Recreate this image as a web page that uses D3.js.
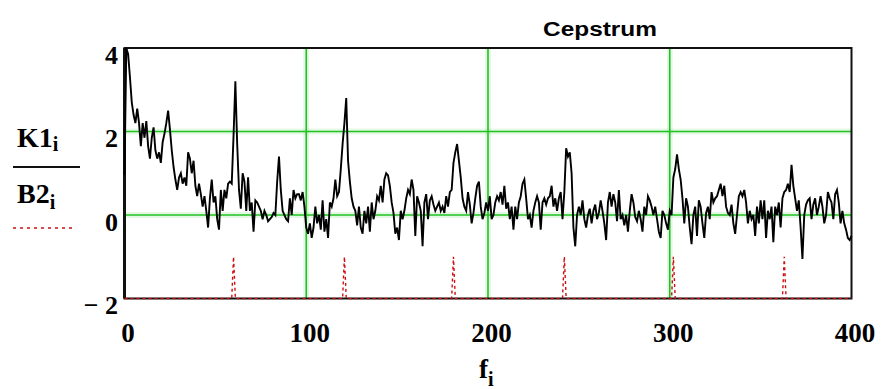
<!DOCTYPE html>
<html>
<head>
<meta charset="utf-8">
<script src="https://cdn.jsdelivr.net/npm/d3@7"></script>
<style>
  body { margin: 0; background: #fff; }
  svg { display: block; }
</style>
</head>
<body>
<svg id="chart" width="885" height="389"></svg>
<script>
// Cepstrum trace K1, one value per index i = 0..400
const K1 = [
  0.95, 4.0, 3.85, 3.3, 2.7, 2.4, 2.2, 2.55, 2.2, 1.65,
  2.2, 1.85, 2.25, 1.65, 1.35, 1.85, 2.1, 1.55, 1.35, 1.5,
  1.25, 1.75, 1.95, 2.2, 2.5, 2.05, 1.55, 1.15, 0.85, 0.6,
  0.9, 1.0, 0.75, 0.9, 0.7, 1.5, 1.35, 1.0, 1.3, 0.7,
  0.45, 0.75, 0.5, 0.2, 0.45, 0.1, -0.3, 0.4, 0.85, 0.3,

  0.45, -0.1, -0.35, 0.6, 0.1, 0.6, 0.4, 0.75, 0.8, 0.75,
  1.9, 3.2, 1.7, 0.6, 0.15, 1.0, 0.8, 0.1, 0.9, 0.1,
  0.3, -0.4, 0.35, 0.3, 0.2, 0.1, -0.1, 0.1, 0.0, -0.15,
  -0.1, -0.05, 0.05, 0.0, 0.8, 1.4, 0.6, 0.1, 0.0, -0.1,
  -0.15, 0.4, 0.0, 0.6, 0.4, 0.5, 0.5, 0.35, 0.55, 0.2,

  -0.3, -0.45, -0.2, -0.55, -0.3, 0.2, -0.2, 0.0, -0.35, 0.35,
  -0.4, -0.1, -0.55, 0.3, 0.2, 0.4, 0.85, 0.45, 0.55, 1.1,
  1.7, 2.2, 2.8, 1.3, 0.8, 0.4, 0.2, 0.1, -0.25, 0.2,
  -0.3, -0.45, 0.1, -0.2, 0.2, -0.4, 0.3, -0.1, 0.1, 0.45,
  0.35, 0.7, 0.3, 0.85, 1.0, 0.95, 0.7, 0.3, 0.05, -0.45,

  -0.3, -0.6, 0.1, -0.1, 0.1, 0.4, 0.6, 0.5, 0.85, 0.6,
  -0.5, 0.45, 0.3, 0.1, -0.75, 0.3, 0.5, -0.1, 0.35, 0.45,
  0.25, 0.1, 0.2, 0.3, 0.1, 0.2, 0.05, 0.45, 0.2, 0.55,
  0.6, 1.25, 1.5, 1.7, 1.3, 0.9, 0.4, 0.2, 0.1, 0.55,
  0.25, -0.2, 0.05, 0.4, 0.7, 0.8, 0.2, -0.1, 0.05, 0.3,

  0.1, 0.45, -0.1, 0.0, 0.3, 0.45, 0.35, 0.55, 0.25, 0.7,
  0.15, 0.3, -0.1, 0.2, -0.35, 0.2, -0.1, 0.3, 0.45, 0.75,
  0.85, 0.4, -0.1, 0.0, -0.3, 0.1, 0.3, 0.45, 0.3, -0.35,
  0.3, 0.4, 0.25, 0.4, 0.45, 0.7, 0.2, 0.4, 0.1, 0.4,
  0.55, -0.1, 0.55, 1.6, 1.4, 1.5, 1.0, -0.3, -0.75, 0.0,

  0.2, 0.0, 0.35, -0.1, -0.3, 0.0, 0.15, -0.2, 0.1, 0.25,
  -0.1, 0.05, 0.35, 0.1, -0.2, -0.6, 0.3, 0.55, 0.2, 0.5,
  0.3, -0.15, 0.6, -0.1, 0.0, -0.25, 0.0, -0.4, 0.1, 0.5,
  0.3, -0.05, -0.15, 0.1, -0.1, -0.4, 0.2, 0.0, 0.45, 0.35,
  0.2, 0.0, 0.2, -0.1, -0.4, -0.55, 0.1, 0.0, -0.2, -0.35,

  0.1, 0.0, 0.9, 1.1, 1.45, 1.1, 0.85, 0.4, -0.2, 0.4,
  0.2, -0.3, -0.7, 0.0, 0.2, -0.5, 0.35, 0.2, -0.2, -0.55,
  0.05, 0.2, -0.1, 0.55, 0.3, 0.4, 0.45, 0.6, 0.75, 0.45,
  0.7, 0.2, 0.05, 0.0, 0.25, -0.2, -0.45, 0.0, 0.45, 0.55,
  0.45, 0.6, 0.3, -0.2, 0.1, -0.1, 0.0, -0.5, 0.2, -0.2,

  0.35, -0.1, 0.35, -0.55, 0.1, -0.1, 0.2, -0.65, 0.2, 0.0,
  0.3, -0.3, 0.4, 0.55, 0.6, 0.75, 0.55, 1.2, 0.7, 0.4,
  0.1, 0.35, -0.3, -1.05, 0.0, 0.25, 0.35, 0.4, -0.1, 0.25,
  0.4, 0.0, 0.2, 0.45, 0.2, -0.2, 0.0, 0.55, 0.4, 0.3,
  -0.1, 0.5, 0.6, 0.3, -0.2, 0.1, -0.2, -0.35, -0.55, -0.6,
  -0.5
];

// Marker trace B2: sits at the base level, lifted at the harmonic indices
const B2_base = -2;
const B2_mark = -1;
const B2_marks = [60, 121, 181, 242, 302, 363];
const B2 = K1.map((_, i) => (B2_marks.includes(i) ? B2_mark : B2_base));

// Axis ticks and grid positions
const xTicks = [0, 100, 200, 300, 400];
const yTicks = [-2, 0, 2, 4];
const xGrid = [100, 200, 300];
const yGrid = [0, 2];

const svg = d3.select("#chart");

const x = d3.scaleLinear().domain([0, 400]).range([124.5, 851.5]);
const y = d3.scaleLinear().domain([-2, 4]).range([298.5, 48]);

const GREEN = "#1fc21f";
const RED = "#cc1010";
const SERIF = "'Liberation Serif', 'Times New Roman', serif";
const SANS = "'Liberation Sans', Arial, sans-serif";

// Grid lines, each with a faint wide halo beneath
const gridG = svg.append("g");
[[6, 0.12], [1.6, 1]].forEach(([w, op]) => {
  gridG.append("g").selectAll("line").data(xGrid).join("line")
    .attr("x1", d => x(d)).attr("x2", d => x(d))
    .attr("y1", y(4)).attr("y2", y(-2))
    .attr("stroke", GREEN).attr("stroke-width", w).attr("stroke-opacity", op);
  gridG.append("g").selectAll("line").data(yGrid).join("line")
    .attr("x1", x(0)).attr("x2", x(400))
    .attr("y1", d => y(d)).attr("y2", d => y(d))
    .attr("stroke", GREEN).attr("stroke-width", w).attr("stroke-opacity", op);
});

// Frame
svg.append("rect")
  .attr("x", x(0)).attr("y", y(4))
  .attr("width", x(400) - x(0)).attr("height", y(-2) - y(4))
  .attr("fill", "none").attr("stroke", "#111").attr("stroke-width", 2);
svg.append("line")
  .attr("x1", x(0)).attr("x2", x(0)).attr("y1", y(4)).attr("y2", y(-2))
  .attr("stroke", "#111").attr("stroke-width", 3);

const line = d3.line().x((d, i) => x(i)).y(d => y(d));

// B2 dotted trace
svg.append("path").datum(B2)
  .attr("d", line)
  .attr("fill", "none").attr("stroke", RED)
  .attr("stroke-width", 1.4).attr("stroke-dasharray", "3,3");

// K1 trace
svg.append("path").datum(K1)
  .attr("d", line)
  .attr("fill", "none").attr("stroke", "#000")
  .attr("stroke-width", 1.9).attr("stroke-linejoin", "miter");

// Axes
const xAxisG = svg.append("g")
  .attr("transform", `translate(0,${y(-2)})`)
  .call(d3.axisBottom(x).tickValues(xTicks).tickSize(0));
xAxisG.select(".domain").remove();
xAxisG.selectAll("text")
  .attr("y", 43).attr("dy", null).attr("dx", 3)
  .attr("fill", "#000")
  .style("font-family", SERIF).style("font-weight", "bold").style("font-size", "27px");

const yAxisG = svg.append("g")
  .attr("transform", `translate(118,0)`)
  .call(d3.axisLeft(y).tickValues(yTicks).tickSize(0)
    .tickFormat(d => d < 0 ? "\u2212 " + Math.abs(d) : String(d)));
yAxisG.select(".domain").remove();
yAxisG.selectAll("text")
  .attr("x", 0).attr("dy", null).attr("y", 15)
  .attr("fill", "#000")
  .style("font-family", SERIF).style("font-weight", "bold").style("font-size", "26px");

// Title
svg.append("text")
  .attr("x", 543).attr("y", 36)
  .attr("textLength", 114).attr("lengthAdjust", "spacingAndGlyphs")
  .style("font-family", SANS).style("font-weight", "bold").style("font-size", "20px")
  .text("Cepstrum");

// X axis label f_i
const fx = svg.append("text").attr("x", 479).attr("y", 378)
  .style("font-family", SERIF).style("font-weight", "bold").style("font-size", "27px");
fx.append("tspan").text("f");
fx.append("tspan").attr("dy", 8).style("font-size", "20px").text("i");

// Legend: K1_i over B2_i with a dotted sample
const k = svg.append("text").attr("x", 17).attr("y", 147)
  .style("font-family", SERIF).style("font-weight", "bold").style("font-size", "28px");
k.append("tspan").text("K1");
k.append("tspan").attr("dy", 4).style("font-size", "20px").text("i");

svg.append("line").attr("x1", 13).attr("x2", 80).attr("y1", 167).attr("y2", 167)
  .attr("stroke", "#111").attr("stroke-width", 2);

const b = svg.append("text").attr("x", 17).attr("y", 203)
  .style("font-family", SERIF).style("font-weight", "bold").style("font-size", "28px");
b.append("tspan").text("B2");
b.append("tspan").attr("dy", 6).style("font-size", "20px").text("i");

svg.append("line").attr("x1", 13).attr("x2", 76).attr("y1", 228).attr("y2", 228)
  .attr("stroke", RED).attr("stroke-width", 1.4).attr("stroke-dasharray", "3,4");
</script>
</body>
</html>
